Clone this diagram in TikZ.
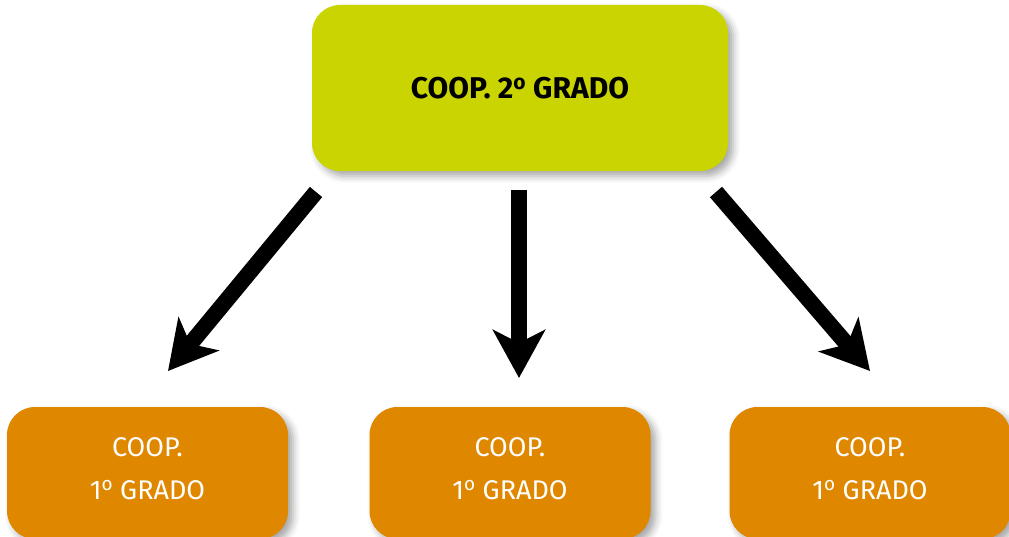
\documentclass[tikz,border=0pt]{standalone}
\usepackage{fontspec}
\setmainfont{Fira Sans}
\usetikzlibrary{arrows.meta,shadows.blur}
\definecolor{topgreen}{HTML}{C9D400}
\definecolor{coorange}{HTML}{E08700}
% raised ordinal o without the underline
\newcommand{\ordo}{\textsuperscript{o}}
\tikzset{
  coopbox/.style={rounded corners=28pt, inner sep=0pt,
    blur shadow={shadow xshift=5pt, shadow yshift=-5pt, shadow blur radius=7pt, shadow opacity=35}},
  topbox/.style={coopbox, fill=topgreen, minimum width=416pt, minimum height=166pt,
    font=\fontsize{30}{34}\selectfont\bfseries, text=black},
  basebox/.style={coopbox, fill=coorange, minimum width=281pt, minimum height=132pt},
  basetext/.style={font=\fontsize{27}{43}\selectfont, text=white, align=center, inner sep=0pt},
  bigarrow/.style={line width=16pt, -{Stealth[length=48pt, width=52pt, inset=13pt]}}
}
\begin{document}
\begin{tikzpicture}[x=1pt, y=-1pt]
  \useasboundingbox (0,0) rectangle (1009,537);
  \node[topbox] (top) at (520,88) {COOP. 2\ordo{} GRADO};
  \node[basebox] (left) at (147.5,473) {};
  \node[basebox] (mid) at (510,473) {};
  \node[basebox] (right) at (870,473) {};
  \node[basetext] (ltext) at ([yshift=4pt]left.center) {COOP.\\1\ordo{} GRADO};
  \node[basetext] (mtext) at ([yshift=4pt]mid.center) {COOP.\\1\ordo{} GRADO};
  \node[basetext] (rtext) at ([yshift=4pt]right.center) {COOP.\\1\ordo{} GRADO};
  % arrow end points between the levels
  \coordinate (lstart) at (316,192);
  \coordinate (lend) at (168,371);
  \coordinate (mstart) at (519,190);
  \coordinate (mend) at (519,378);
  \coordinate (rstart) at (716,192);
  \coordinate (rend) at (870,371);
  \draw[bigarrow] (lstart) -- (lend);
  \draw[bigarrow] (mstart) -- (mend);
  \draw[bigarrow] (rstart) -- (rend);
\end{tikzpicture}
\end{document}
